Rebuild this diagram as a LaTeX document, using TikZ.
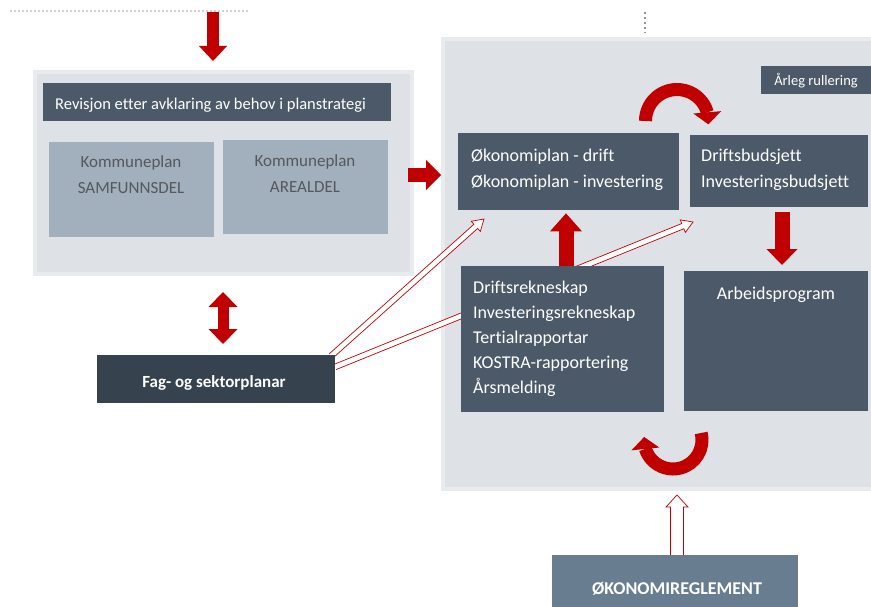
\documentclass[tikz,border=0pt]{standalone}
\usepackage{fontspec}
\setmainfont{Carlito}[Ligatures=NoCommon]
\usetikzlibrary{arrows.meta,bending,calc}
\definecolor{bgbox}{RGB}{222,226,231}
\definecolor{bgedge}{RGB}{233,236,239}
\definecolor{slate}{RGB}{75,89,104}
\definecolor{darkslate}{RGB}{54,66,77}
\definecolor{midslate}{RGB}{105,125,145}
\definecolor{lightslate}{RGB}{162,175,188}
\definecolor{kred}{RGB}{192,0,0}
\definecolor{ktext}{RGB}{85,88,92}
\definecolor{dotgray}{RGB}{150,150,150}
\newcommand\hollowarrow[5]{%
  \draw[hollow] let \p1=(#1), \p2=(#2), \n1={atan2(\y2-\y1,\x2-\x1)},
    \n2={\n1+90}, \n3={\n1-90}, \n4={\n1+180} in
    ($(\p1)+(\n2:#3)$) -- ($(\p2)+(\n4:#5)+(\n2:#3)$) -- ($(\p2)+(\n4:#5)+(\n2:#4)$)
    -- (\p2) -- ($(\p2)+(\n4:#5)+(\n3:#4)$) -- ($(\p2)+(\n4:#5)+(\n3:#3)$)
    -- ($(\p1)+(\n3:#3)$);%
}
\begin{document}
\begin{tikzpicture}[x=1pt,y=-1pt,
  panel/.style={fill=bgbox,draw=bgedge,line width=4pt,anchor=north west,inner sep=0pt},
  boxed/.style={fill=#1,draw=none,anchor=north west,inner sep=0pt},
  wtxt/.style={font=\fontsize{18}{22}\selectfont,text=white,inner sep=0pt,anchor=base west},
  gtxt/.style={font=\fontsize{17}{20}\selectfont,text=ktext,inner sep=0pt,anchor=base},
  redarrow/.style={draw=kred,line width=#1},
  hollow/.style={draw=kred,line width=0.7pt,fill=white,line join=miter},
]
\useasboundingbox[fill=white] (0,0) rectangle (871,607);

% dotted guide lines
\coordinate (dl1) at (10,11);
\coordinate (dl2) at (248,11);
\draw[dotgray!45,line width=1.6pt,dash pattern=on 2pt off 2pt] (dl1) -- (dl2);
\coordinate (dv1) at (645,12);
\coordinate (dv2) at (645,33);
\draw[dotgray,line width=1.6pt,dash pattern=on 2.5pt off 2.5pt] (dv1) -- (dv2);

% panels
\node[panel,minimum width=377pt,minimum height=202pt] (leftpanel) at (33,70) {};
\node[panel,minimum width=436pt,minimum height=450pt] (rightpanel) at (441,37) {};

% hollow arrows (behind boxes)
\coordinate (h1s) at (331,356);
\coordinate (h1e) at (484,219);
\coordinate (h2s) at (335,367);
\coordinate (h2e) at (693,222);
\coordinate (h3s) at (677,556);
\coordinate (h3e) at (677,495);
\hollowarrow{h1s}{h1e}{2.8pt}{6.8pt}{11pt}
\hollowarrow{h2s}{h2e}{2.8pt}{6.8pt}{11pt}
\hollowarrow{h3s}{h3e}{6.5pt}{11pt}{12pt}

% left side boxes
\node[boxed=slate,minimum width=348pt,minimum height=38pt] (header) at (43,83) {};
\node[wtxt,font=\fontsize{16.5}{19}\selectfont] (headertxt) at (55,110) {Revisjon etter avklaring av behov i planstrategi};
\node[boxed=lightslate,minimum width=165pt,minimum height=95pt] (samf) at (49,142) {};
\node[gtxt] (samf1) at (131,168) {Kommuneplan};
\node[gtxt] (samf2) at (131,194) {SAMFUNNSDEL};
\node[boxed=lightslate,minimum width=165pt,minimum height=94pt] (areal) at (223,140) {};
\node[gtxt] (areal1) at (305,167) {Kommuneplan};
\node[gtxt] (areal2) at (305,193) {AREALDEL};
\node[boxed=darkslate,minimum width=238pt,minimum height=48pt] (fag) at (97,355) {};
\node[wtxt,anchor=base,font=\bfseries\fontsize{17}{20}\selectfont] (fagtxt) at (214,387) {Fag- og sektorplanar};

% right side boxes
\node[boxed=slate,minimum width=112pt,minimum height=28pt] (arleg) at (761,66) {};
\node[wtxt,anchor=base,font=\fontsize{14.5}{17}\selectfont] (arlegtxt) at (816,86) {Årleg rullering};
\node[boxed=slate,minimum width=221pt,minimum height=77pt] (okplan) at (458,133) {};
\node[wtxt] (ok1) at (471,162) {Økonomiplan - drift};
\node[wtxt] (ok2) at (471,188) {Økonomiplan - investering};
\node[boxed=slate,minimum width=178pt,minimum height=72pt] (budsj) at (690,135) {};
\node[wtxt] (bu1) at (701,162) {Driftsbudsjett};
\node[wtxt] (bu2) at (701,188) {Investeringsbudsjett};
\node[boxed=slate,minimum width=203pt,minimum height=146pt] (rekn) at (461,266) {};
\node[wtxt] (re1) at (473,293) {Driftsrekneskap};
\node[wtxt] (re2) at (473,318) {Investeringsrekneskap};
\node[wtxt] (re3) at (473,343) {Tertialrapportar};
\node[wtxt] (re4) at (473,368) {KOSTRA-rapportering};
\node[wtxt] (re5) at (473,393) {Årsmelding};
\node[boxed=slate,minimum width=184pt,minimum height=140pt] (arbeid) at (684,271) {};
\node[wtxt,anchor=base] (arbtxt) at (776,299) {Arbeidsprogram};
\node[boxed=midslate,minimum width=246pt,minimum height=64pt] (okreg) at (552,555) {};
\node[wtxt,anchor=base,font=\bfseries\fontsize{18}{21}\selectfont] (okregtxt) at (677,594) {ØKONOMIREGLEMENT};

% solid red arrows
\coordinate (topin) at (213,12);
\draw[redarrow=12pt,-{Triangle[width=28pt,length=15pt,line width=0pt]},shorten >=9pt]
  (topin) -- (topin |- leftpanel.north);
\coordinate (ra) at (408,175);
\draw[redarrow=14pt,-{Triangle[width=30pt,length=15pt,line width=0pt]}]
  (ra) -- (ra -| rightpanel.west);
\coordinate (da) at (223,0);
\draw[redarrow=11pt,{Triangle[width=29pt,length=15pt,line width=0pt]}-{Triangle[width=29pt,length=15pt,line width=0pt]},shorten <=16pt,shorten >=11pt]
  (da |- leftpanel.south) -- (da |- fag.north);
\coordinate (ua) at (566,0);
\draw[redarrow=15pt,-{Triangle[width=32pt,length=18pt,line width=0pt]},shorten >=3pt]
  (ua |- rekn.north) -- (ua |- okplan.south);
\coordinate (dna) at (782,0);
\draw[redarrow=15pt,-{Triangle[width=31pt,length=16pt,line width=0pt]},shorten <=5pt,shorten >=6pt]
  (dna |- budsj.south) -- (dna |- arbeid.north);

% curved arrows
\coordinate (c1) at (677,121);
\draw[redarrow=13pt,-{Triangle[width=28pt,length=12pt,line width=0pt,flex]}]
  ($(c1)+(180:31.5)$) arc[start angle=180,end angle=366,radius=31.5];
\coordinate (c2) at (673,440);
\draw[redarrow=13pt,-{Triangle[width=28pt,length=12pt,line width=0pt,flex]}]
  ($(c2)+(-14:29)$) arc[start angle=-14,end angle=186,radius=29];
\end{tikzpicture}
\end{document}
